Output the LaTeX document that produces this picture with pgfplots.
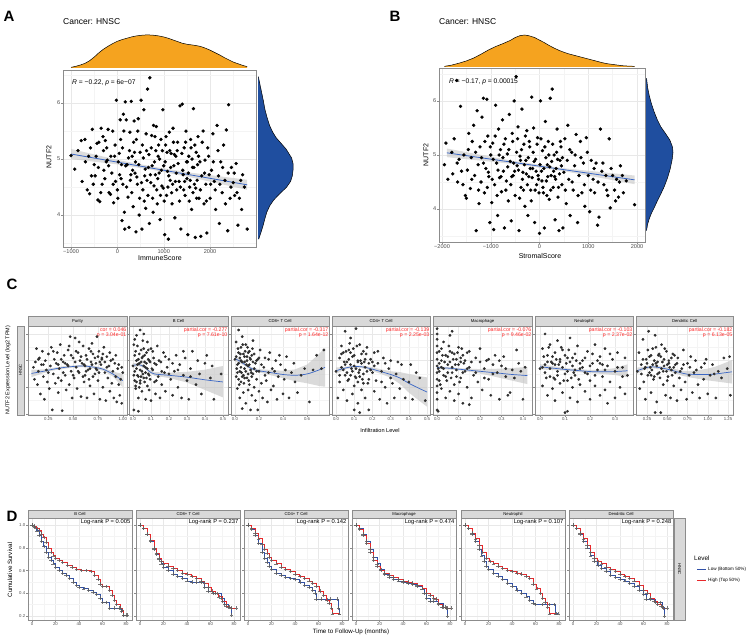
\documentclass[border=0pt]{standalone}
\usepackage{fontspec}
\setmainfont{Liberation Sans}
\usepackage{pgfplots}
\pgfplotsset{compat=1.18}

\definecolor{orangeD}{HTML}{F5A31F}
\definecolor{blueD}{HTML}{1F4E9F}
\definecolor{fitline}{HTML}{3A66C4}
\definecolor{kmred}{HTML}{E8282B}
\definecolor{kmblue}{HTML}{3050A8}
\definecolor{stripgray}{HTML}{D9D9D9}
\definecolor{framegray}{HTML}{8C8C8C}
\definecolor{tickgray}{HTML}{4D4D4D}
\definecolor{dotgray}{HTML}{2E2E2E}
\definecolor{cortext}{HTML}{FF2A2A}

\newcommand{\fs}[1]{\fontsize{#1}{#1}\selectfont}
% strip header: x1 x2 ytop ybottom text (pixel coords, y down)
\newcommand{\strip}[5]{%
  \draw[fill=stripgray, draw=framegray, line width=0.4pt] (#1,#3) rectangle (#2,#4);
  \node[font=\fs{4.2}, inner sep=0] at ({(#1+#2)/2},{(#3+#4)/2}) {#5};}

\tikzset{
  cortxt/.style={anchor=north east, align=right, font=\fs{5.2}, text=cortext, inner sep=0.5pt},
  lrtxt/.style={anchor=north east, font=\fs{5.8}, inner sep=0.5pt},
}

\pgfplotsset{
  gg/.style={scale only axis, anchor=south west,
    axis line style={framegray, line width=0.5pt},
    grid=both,
    major grid style={gray!18, line width=0.45pt},
    minor grid style={gray!9, line width=0.3pt},
    tick style={framegray, line width=0.35pt},
    major tick length=1.6pt, minor tick length=0pt,
    tick align=outside, xtick pos=bottom, ytick pos=left,
    ticklabel style={text=tickgray},
    /pgf/number format/assume math mode=true,
    xticklabel style={inner sep=1pt}, yticklabel style={inner sep=1pt}},
  dens/.style={scale only axis, anchor=south west, axis lines=none, clip=false},
  cpan/.style={gg, height=89pt, ymin=5.96, ymax=9.3, ytick={6,7,8,9}, minor ytick={6.5,7.5,8.5},
    yticklabel=\empty, ticklabel style={font=\fs{4.3}}},
  dpan/.style={gg, width=104pt, height=102pt, xmin=-3.4, xmax=85.1, ymin=0.165, ymax=1.062,
    xtick={0,20,40,60,80}, minor xtick={10,30,50,70},
    ytick={0.2,0.4,0.6,0.8,1.0}, minor ytick={0.3,0.5,0.7,0.9},
    yticklabel=\empty, ticklabel style={font=\fs{4.3}}},
  cdot/.style={only marks, mark=*, mark size=1.2pt, dotgray},
  adot/.style={only marks, mark=*, mark size=1.5pt, black},
  cfit/.style={fitline, line width=0.7pt},
  cband/.style={fill=gray!45, draw=none, fill opacity=0.65},
  kmb/.style={const plot, kmblue, line width=0.5pt, mark=+, mark size=1.7pt,
    mark options={gray!75!black, line width=0.35pt, opacity=0.85}},
  kmr/.style={kmb, kmred},
}

\begin{document}
\begin{tikzpicture}[x=1pt, y=1pt]
\useasboundingbox (0pt,0pt) rectangle (753pt,639pt);

%================ PANEL A ================
\begin{axis}[dens, at={(63pt,571pt)}, width=193pt, height=33pt, xmin=-1173, xmax=2990, ymin=0, ymax=1]
\addplot[fill=orangeD, draw=none] coordinates {
(-1000,0.02) (-900,0.05) (-800,0.09) (-700,0.14) (-600,0.22) (-500,0.33) (-400,0.46) (-300,0.57)
(-200,0.66) (-100,0.74) (0,0.81) (100,0.86) (200,0.90) (300,0.94) (400,0.97) (500,0.99) (600,1.0)
(700,1.0) (800,0.99) (900,0.97) (1000,0.94) (1100,0.90) (1200,0.85) (1300,0.80) (1400,0.75)
(1500,0.72) (1600,0.70) (1700,0.68) (1800,0.65) (1900,0.60) (2000,0.54) (2100,0.47) (2200,0.40)
(2300,0.32) (2400,0.25) (2500,0.18) (2600,0.13) (2700,0.08) (2800,0.04)} \closedcycle;
\addplot[black, line width=0.5pt] coordinates {
(-1000,0.02) (-900,0.05) (-800,0.09) (-700,0.14) (-600,0.22) (-500,0.33) (-400,0.46) (-300,0.57)
(-200,0.66) (-100,0.74) (0,0.81) (100,0.86) (200,0.90) (300,0.94) (400,0.97) (500,0.99) (600,1.0)
(700,1.0) (800,0.99) (900,0.97) (1000,0.94) (1100,0.90) (1200,0.85) (1300,0.80) (1400,0.75)
(1500,0.72) (1600,0.70) (1700,0.68) (1800,0.65) (1900,0.60) (2000,0.54) (2100,0.47) (2200,0.40)
(2300,0.32) (2400,0.25) (2500,0.18) (2600,0.13) (2700,0.08) (2800,0.04)};
\end{axis}

\begin{axis}[dens, at={(258pt,392pt)}, width=35pt, height=177pt, xmin=0, xmax=1, ymin=3.43, ymax=6.59]
\addplot[fill=blueD, draw=none] coordinates {
(0,3.57) (0.02,3.57) (0.08,3.68) (0.14,3.80) (0.19,3.92) (0.25,4.05) (0.34,4.17) (0.45,4.27) (0.62,4.38)
(0.82,4.50) (0.93,4.60) (0.98,4.70) (1.0,4.80) (1.0,4.92) (0.96,5.02) (0.88,5.10) (0.80,5.18)
(0.66,5.28) (0.52,5.38) (0.42,5.48) (0.33,5.60) (0.26,5.74) (0.20,5.88) (0.15,6.05) (0.10,6.20)
(0.05,6.35) (0.01,6.47) (0,6.47)};
\addplot[black, line width=0.5pt] coordinates {
(0.02,3.57) (0.08,3.68) (0.14,3.80) (0.19,3.92) (0.25,4.05) (0.34,4.17) (0.45,4.27) (0.62,4.38)
(0.82,4.50) (0.93,4.60) (0.98,4.70) (1.0,4.80) (1.0,4.92) (0.96,5.02) (0.88,5.10) (0.80,5.18)
(0.66,5.28) (0.52,5.38) (0.42,5.48) (0.33,5.60) (0.26,5.74) (0.20,5.88) (0.15,6.05) (0.10,6.20)
(0.05,6.35) (0.01,6.47)};
\end{axis}

\begin{axis}[gg, at={(63pt,392pt)}, width=193pt, height=177pt,
  xmin=-1173, xmax=2990, ymin=3.43, ymax=6.59,
  xtick={-1000,0,1000,2000}, xticklabels={−1000,0,1000,2000},
  minor xtick={-500,500,1500,2500},
  ytick={4,5,6}, minor ytick={3.5,4.5,5.5,6.5},
  ticklabel style={font=\fs{5.6}}]
\addplot[adot] coordinates {
(-1000,5.06) (-920,4.82) (-780,5.33) (-700,5.35) (-650,4.45) (-620,5.05) (-600,4.38) (-560,4.70)
(-540,5.53) (-500,4.90) (-480,4.70) (-440,5.28) (-420,4.27) (-400,5.30) (-380,4.24) (-350,5.55)
(-330,4.55) (-300,5.15) (-290,4.80) (-260,5.33) (-240,4.95) (-220,4.98) (-200,5.53) (-180,4.40)
(-150,4.37) (-120,4.75) (-100,5.50) (-80,4.22) (-60,5.05) (-40,4.60) (-20,6.05) (0,4.45) (20,4.95)
(40,5.10) (60,5.70) (80,4.65) (100,3.90) (110,5.20) (130,5.80) (150,4.05) (160,3.75) (170,6.02)
(190,5.70) (210,4.90) (230,4.32) (250,3.78) (270,5.48) (290,4.72) (300,6.03) (320,5.05) (340,4.15)
(360,5.68) (380,4.75) (400,3.70) (410,5.35) (430,4.55) (450,5.72) (470,4.00) (490,5.12) (510,6.05)
(530,3.75) (550,4.45) (570,5.88) (590,4.70) (610,4.12) (630,5.15) (650,6.25) (670,4.85) (690,3.85)
(700,6.45) (720,4.58) (740,5.42) (760,4.30) (780,5.60) (800,4.95) (820,4.72) (840,5.58) (860,4.20)
(880,5.05) (900,4.75) (920,3.92) (940,5.35) (960,4.52) (980,5.88) (1000,4.88) (1020,3.65)
(1040,5.25) (1060,4.35) (1080,4.78) (1100,3.57) (1120,5.48) (1140,4.62) (1160,5.10) (1180,4.20)
(1200,5.55) (1220,4.88) (1240,3.95) (1260,5.05) (1280,4.45) (1300,5.30) (1330,4.60) (1350,5.95)
(1370,3.75) (1400,5.98) (1420,4.72) (1440,5.20) (1460,4.35) (1480,5.50) (1500,4.65) (1520,3.65)
(1540,5.05) (1560,4.50) (1580,5.35) (1600,4.10) (1620,4.85) (1640,5.90) (1660,4.55) (1680,3.60)
(1700,5.12) (1720,4.62) (1740,5.40) (1760,4.30) (1780,4.95) (1800,3.62) (1820,4.70) (1850,5.50)
(1870,4.20) (1890,4.98) (1910,4.55) (1930,3.68) (1950,5.20) (1980,4.72) (2000,4.30) (2030,4.80)
(2060,5.45) (2090,4.60) (2120,4.10) (2150,5.60) (2180,4.70) (2200,3.85) (2230,4.95) (2260,4.40)
(2290,5.25) (2320,4.62) (2350,5.52) (2380,3.72) (2400,5.97) (2430,4.30) (2460,4.85) (2500,4.58)
(2530,4.35) (2560,4.92) (2600,3.82) (2630,4.30) (2660,4.62) (2700,4.72) (2740,4.50) (2800,3.75)
(50,4.72) (120,4.55) (180,4.88) (240,5.02) (280,4.62) (330,4.80) (370,5.12) (420,4.68) (460,4.90)
(520,4.58) (560,5.02) (600,4.82) (640,4.62) (680,5.08) (710,4.72) (750,4.88) (790,4.52) (830,5.15)
(870,4.65) (910,5.00) (950,4.80) (990,4.48) (1030,4.95) (1070,5.12) (1110,4.70) (1150,4.85)
(1190,4.55) (1230,5.08) (1270,4.75) (1310,4.92) (1360,4.50) (1410,4.80) (1450,4.60) (1490,4.95)
(1530,4.75) (1570,4.62) (1610,5.00) (1650,4.85) (1690,4.48) (1730,4.90)};
\addplot[adot] coordinates {
(-850,5.15) (-760,4.60) (-690,4.95) (-580,5.20) (-520,4.55) (-460,5.05) (-410,4.85) (-360,4.40)
(-310,5.40) (-270,4.65) (-230,5.20) (-190,4.88) (-140,5.05) (-90,4.55) (-50,5.25) (10,4.30) (70,5.35)
(90,4.90) (140,5.50) (200,4.50) (260,5.15) (310,4.40) (350,5.30) (390,4.95) (440,5.50) (480,4.30)
(540,5.25) (580,4.25) (620,5.45) (660,4.35) (730,5.20) (770,4.05) (810,5.40) (850,4.45) (890,5.25)
(930,4.35) (970,5.15) (1010,4.25) (1050,5.40) (1090,4.50) (1130,5.15) (1170,4.40) (1210,5.30)
(1250,4.60) (1290,5.15) (1340,4.25) (1390,5.10) (1430,4.45) (1470,5.30) (1510,4.95) (1550,4.25)
(1590,5.20) (1630,4.40) (1670,5.25) (1710,4.30) (1750,5.05) (1790,4.45) (1830,5.30) (1880,4.75)
(1920,4.25) (1970,5.05) (2010,4.55) (2070,4.95) (2110,4.45) (2170,5.15) (2210,4.55) (2270,4.85)
(2330,4.20) (2390,4.75) (2450,4.50) (2520,4.75) (2580,4.40) (2680,4.10)};
\addplot[fill=gray!45, draw=none, fill opacity=0.6] coordinates {
(-1000,5.18) (0,4.985) (800,4.86) (1600,4.755) (2800,4.63)
(2800,4.45) (1600,4.67) (800,4.80) (0,4.905) (-1000,5.00)};
\addplot[fitline, line width=0.8pt] coordinates {(-1000,5.09) (2800,4.54)};
\end{axis}

%================ PANEL B ================
\begin{axis}[dens, at={(439pt,572pt)}, width=206pt, height=32pt, xmin=-2062, xmax=2164, ymin=0, ymax=1]
\addplot[fill=orangeD, draw=none] coordinates {
(-1950,0.02) (-1800,0.06) (-1650,0.12) (-1500,0.19) (-1350,0.28) (-1200,0.40) (-1050,0.53)
(-900,0.64) (-750,0.73) (-600,0.83) (-500,0.92) (-400,0.98) (-300,1.0) (-200,0.97) (-100,0.92)
(0,0.84) (100,0.76) (200,0.67) (300,0.59) (400,0.52) (500,0.46) (600,0.41) (700,0.37) (800,0.33)
(900,0.29) (1000,0.25) (1100,0.21) (1200,0.17) (1300,0.13) (1400,0.10) (1500,0.08) (1600,0.06)
(1700,0.04) (1800,0.03) (1950,0.02)} \closedcycle;
\addplot[black, line width=0.5pt] coordinates {
(-1950,0.02) (-1800,0.06) (-1650,0.12) (-1500,0.19) (-1350,0.28) (-1200,0.40) (-1050,0.53)
(-900,0.64) (-750,0.73) (-600,0.83) (-500,0.92) (-400,0.98) (-300,1.0) (-200,0.97) (-100,0.92)
(0,0.84) (100,0.76) (200,0.67) (300,0.59) (400,0.52) (500,0.46) (600,0.41) (700,0.37) (800,0.33)
(900,0.29) (1000,0.25) (1100,0.21) (1200,0.17) (1300,0.13) (1400,0.10) (1500,0.08) (1600,0.06)
(1700,0.04) (1800,0.03) (1950,0.02)};
\end{axis}

\begin{axis}[dens, at={(646pt,397pt)}, width=27pt, height=174pt, xmin=0, xmax=1, ymin=3.39, ymax=6.61]
\addplot[fill=blueD, draw=none] coordinates {
(0,3.60) (0.02,3.60) (0.06,3.72) (0.12,3.82) (0.20,3.92) (0.30,4.02) (0.42,4.15) (0.55,4.28) (0.68,4.42)
(0.80,4.58) (0.90,4.75) (0.97,4.92) (1.0,5.05) (0.98,5.15) (0.88,5.28) (0.72,5.40) (0.55,5.52)
(0.42,5.65) (0.30,5.80) (0.20,5.95) (0.12,6.10) (0.06,6.25) (0.02,6.42) (0,6.42)};
\addplot[black, line width=0.5pt] coordinates {
(0.02,3.60) (0.06,3.72) (0.12,3.82) (0.20,3.92) (0.30,4.02) (0.42,4.15) (0.55,4.28) (0.68,4.42)
(0.80,4.58) (0.90,4.75) (0.97,4.92) (1.0,5.05) (0.98,5.15) (0.88,5.28) (0.72,5.40) (0.55,5.52)
(0.42,5.65) (0.30,5.80) (0.20,5.95) (0.12,6.10) (0.06,6.25) (0.02,6.42)};
\end{axis}

\begin{axis}[gg, at={(439pt,397pt)}, width=206pt, height=174pt,
  xmin=-2062, xmax=2164, ymin=3.39, ymax=6.61,
  xtick={-2000,-1000,0,1000,2000}, xticklabels={−2000,−1000,0,1000,2000},
  minor xtick={-1500,-500,500,1500},
  ytick={4,5,6}, minor ytick={3.5,4.5,5.5,6.5},
  ticklabel style={font=\fs{5.6}}]
\addplot[adot] coordinates {
(-1950,4.82) (-1920,5.22) (-1800,5.05) (-1780,4.65) (-1700,6.38) (-1680,4.50) (-1650,4.92)
(-1620,5.90) (-1600,4.70) (-1550,5.00) (-1520,4.25) (-1500,4.20) (-1480,4.72) (-1450,5.40)
(-1420,4.38) (-1400,4.95) (-1380,5.25) (-1350,5.55) (-1330,4.62) (-1300,3.60) (-1280,5.82)
(-1260,4.82) (-1240,4.10) (-1220,5.15) (-1200,4.50) (-1180,5.70) (-1150,6.05) (-1130,4.30)
(-1100,4.75) (-1080,6.03) (-1060,5.35) (-1040,4.60) (-1020,3.75) (-1000,5.00) (-980,4.12)
(-960,5.22) (-940,3.62) (-920,4.45) (-900,5.92) (-880,4.85) (-860,3.88) (-840,5.48) (-820,4.58)
(-800,5.10) (-780,4.32) (-760,5.65) (-740,4.70) (-720,3.65) (-700,5.30) (-680,4.52) (-660,5.02)
(-640,4.15) (-620,5.75) (-600,4.88) (-580,3.78) (-560,5.40) (-540,4.62) (-520,6.00) (-500,4.25)
(-480,6.45) (-460,4.80) (-440,5.52) (-420,3.60) (-400,4.98) (-380,4.40) (-360,5.85) (-340,4.68)
(-320,5.20) (-300,4.05) (-280,4.90) (-260,5.45) (-240,3.88) (-220,4.60) (-200,5.15) (-180,4.35)
(-160,6.07) (-140,4.75) (-120,5.50) (-100,3.75) (-80,4.92) (-60,4.45) (-40,5.32) (-20,4.55)
(0,3.55) (20,6.00) (40,4.70) (60,5.08) (80,4.30) (100,3.65) (120,5.62) (140,4.52) (160,4.82)
(180,5.25) (200,4.18) (220,6.05) (240,4.62) (260,6.22) (280,4.40) (300,5.00) (320,3.80) (340,4.75)
(360,5.48) (380,4.22) (400,3.60) (420,4.90) (440,5.15) (460,4.45) (480,3.65) (500,4.68) (520,5.30)
(550,4.10) (580,5.55) (600,4.55) (630,3.88) (660,5.05) (690,4.35) (720,4.80) (750,5.38) (780,3.75)
(810,4.62) (840,5.25) (870,4.30) (900,4.85) (930,4.05) (960,5.32) (1000,4.62) (1030,3.95)
(1060,4.90) (1100,4.55) (1130,4.30) (1160,4.85) (1190,3.70) (1220,3.85) (1250,5.48) (1280,4.70)
(1320,4.45) (1360,4.62) (1400,4.25) (1430,5.30) (1450,4.02) (1500,4.62) (1540,4.35) (1580,4.55)
(1620,4.22) (1660,4.80) (1720,4.30) (1780,4.52) (1950,4.08)
(-1150,4.85) (-1050,4.68) (-950,4.92) (-850,4.72) (-750,4.95) (-650,4.78) (-570,4.60) (-530,4.85)
(-470,5.05) (-430,4.72) (-390,4.90) (-350,4.55) (-310,4.82) (-270,4.65) (-230,4.95) (-190,4.75)
(-150,4.58) (-110,4.88) (-70,4.70) (-30,4.62) (10,4.82) (50,4.52) (90,4.75) (130,4.95) (170,4.60)
(210,4.78) (250,4.88) (290,4.70) (330,4.55) (370,4.92) (410,4.65) (450,4.80)};
\addplot[adot] coordinates {
(-1880,4.55) (-1750,5.30) (-1690,4.85) (-1570,4.45) (-1460,5.10) (-1390,4.55) (-1310,5.05)
(-1250,4.35) (-1190,4.95) (-1120,5.25) (-1070,4.40) (-1010,5.15) (-970,4.55) (-910,5.35) (-870,4.25)
(-830,5.00) (-790,4.60) (-730,5.20) (-690,4.35) (-630,5.10) (-590,4.45) (-550,5.25) (-510,4.70)
(-450,5.30) (-410,4.20) (-370,5.10) (-330,4.35) (-290,5.35) (-250,4.45) (-210,5.25) (-170,4.15)
(-130,5.05) (-90,4.35) (-50,5.20) (-10,4.30) (30,5.30) (70,4.40) (110,5.15) (150,4.25) (190,5.00)
(230,4.35) (270,5.20) (310,4.60) (350,5.05) (390,4.40) (430,5.25) (470,4.95) (530,4.35) (570,4.90)
(620,5.10) (670,4.50) (730,5.00) (790,4.25) (850,4.95) (920,4.45) (980,5.05) (1050,4.35) (1120,4.75)
(1200,4.50) (1300,4.85) (1380,4.35) (1470,4.75) (1560,4.15) (1640,4.50) (1700,4.62)};
\addplot[fill=gray!45, draw=none, fill opacity=0.6] coordinates {
(-1900,5.12) (-500,4.885) (500,4.755) (1950,4.62)
(1950,4.46) (500,4.70) (-500,4.83) (-1900,4.96)};
\addplot[fitline, line width=0.8pt] coordinates {(-1900,5.04) (1950,4.54)};
\end{axis}

%================ PANEL C ================
% Purity
\begin{axis}[cpan, at={(28pt,224pt)}, width=99pt, xmin=0.045, xmax=1.043,
  xtick={0.25,0.5,0.75,1}, xticklabels={0.25,0.50,0.75,1.00}, minor xtick={0.375,0.625,0.875},
  yticklabels={6,7,8,9}]
\addplot[cdot] coordinates {
(0.10,7.75) (0.11,7.30) (0.12,7.95) (0.13,8.45) (0.14,7.10) (0.15,7.60) (0.16,8.10) (0.17,6.75)
(0.18,7.85) (0.19,8.35) (0.20,7.40) (0.21,6.55) (0.22,8.00) (0.23,7.65) (0.24,7.20) (0.25,8.25)
(0.26,6.95) (0.27,7.80) (0.28,8.50) (0.29,6.15) (0.30,7.50) (0.31,8.05) (0.32,7.15) (0.33,7.90)
(0.34,8.30) (0.35,6.80) (0.36,7.70) (0.37,8.60) (0.38,7.25) (0.39,6.12) (0.40,7.95) (0.41,8.20)
(0.42,7.45) (0.43,6.90) (0.44,7.85) (0.45,8.40) (0.46,7.10) (0.47,8.90) (0.48,7.60) (0.49,6.60)
(0.50,8.10) (0.51,7.35) (0.52,8.85) (0.53,7.75) (0.54,6.95) (0.55,8.30) (0.56,7.55) (0.57,8.00)
(0.58,6.65) (0.59,7.90) (0.60,8.55) (0.61,7.20) (0.62,7.80) (0.63,8.20) (0.64,6.60) (0.65,7.65)
(0.66,8.45) (0.67,7.05) (0.68,7.95) (0.69,8.65) (0.70,7.40) (0.71,6.75) (0.72,8.10) (0.73,7.70)
(0.74,8.90) (0.75,7.25) (0.76,8.35) (0.77,6.55) (0.78,7.85) (0.79,8.05) (0.80,7.00) (0.81,8.50)
(0.82,7.55) (0.83,6.50) (0.84,8.15) (0.85,7.35) (0.86,7.80) (0.87,6.85) (0.88,8.00) (0.89,7.15)
(0.90,7.60) (0.91,6.60) (0.92,7.90) (0.93,7.40) (0.94,6.45) (0.95,7.70) (0.96,7.10) (0.97,6.70)
(0.98,7.30) (0.99,6.40) (1.00,7.55) (0.52,7.95) (0.55,7.60) (0.58,8.15) (0.61,7.85) (0.64,8.05)
(0.67,7.70) (0.70,8.25) (0.73,7.90) (0.76,7.55) (0.79,8.10) (0.45,7.80) (0.48,8.20) (0.35,7.85)
(0.40,7.55) (0.62,7.45) (0.68,8.35) (0.74,7.65) (0.82,7.95)
(0.15,8.05) (0.2,7.85) (0.25,7.55) (0.3,8.35) (0.35,7.35) (0.38,8.05) (0.42,7.90) (0.46,8.55)
(0.5,7.45) (0.53,8.35) (0.56,8.70) (0.6,7.40) (0.63,7.60) (0.66,7.30) (0.69,7.85) (0.72,7.50)
(0.75,8.15) (0.77,7.95) (0.8,8.25) (0.84,7.75) (0.87,8.30) (0.9,8.05) (0.93,8.20) (0.96,7.85) (0.99,7.75)};
\addplot[cband] coordinates {
(0.08,7.66) (0.2,7.67) (0.3,7.73) (0.4,7.79) (0.5,7.82) (0.6,7.84) (0.7,7.81) (0.8,7.74) (0.9,7.59) (1.0,7.50)
(1.0,7.00) (0.9,7.41) (0.8,7.62) (0.7,7.71) (0.6,7.76) (0.5,7.74) (0.4,7.69) (0.3,7.63) (0.2,7.53) (0.08,7.38)};
\addplot[cfit, smooth] coordinates {
(0.08,7.52) (0.2,7.60) (0.3,7.68) (0.4,7.74) (0.5,7.78) (0.6,7.80) (0.7,7.76) (0.8,7.68) (0.9,7.50) (1.0,7.25)};
\node[cortxt] at (rel axis cs:1,0.985) {cor = 0.046\\p = 3.04e-01};
\end{axis}

% B Cell
\begin{axis}[cpan, at={(129pt,224pt)}, width=99pt, xmin=-0.022, xmax=0.528,
  xtick={0,0.1,0.2,0.3,0.4,0.5}, xticklabels={0.0,0.1,0.2,0.3,0.4,0.5},
  minor xtick={0.05,0.15,0.25,0.35,0.45}]
\addplot[cdot] coordinates {
(0.00,7.80) (0.005,8.60) (0.01,7.25) (0.01,8.20) (0.015,6.95) (0.02,7.70) (0.02,8.95) (0.025,7.45)
(0.03,8.05) (0.03,6.60) (0.035,7.90) (0.04,9.15) (0.04,7.15) (0.045,8.40) (0.05,7.60) (0.05,6.85)
(0.055,8.15) (0.06,7.35) (0.06,9.00) (0.065,7.95) (0.07,6.55) (0.07,7.75) (0.075,8.30) (0.08,7.05)
(0.08,8.70) (0.085,7.50) (0.09,6.90) (0.09,8.00) (0.095,7.30) (0.10,8.45) (0.10,6.50) (0.11,7.65)
(0.115,8.10) (0.12,7.20) (0.125,6.75) (0.13,7.85) (0.135,8.55) (0.14,7.40) (0.15,6.60) (0.155,7.95)
(0.16,7.10) (0.17,8.30) (0.175,7.55) (0.18,6.85) (0.19,7.75) (0.20,8.05) (0.21,7.30) (0.22,6.70)
(0.23,7.60) (0.24,8.20) (0.25,7.00) (0.26,7.85) (0.27,6.60) (0.28,7.45) (0.29,8.10) (0.30,7.25)
(0.31,6.55) (0.32,7.70) (0.33,8.35) (0.35,7.10) (0.37,7.50) (0.38,6.75) (0.40,7.90) (0.41,8.20)
(0.43,7.35) (0.45,6.55) (0.49,7.50) (0.005,6.15) (0.03,6.10)
(0.01,7.60) (0.02,8.00) (0.025,7.85) (0.03,7.40) (0.035,8.25) (0.04,7.65) (0.045,7.95) (0.05,8.10)
(0.055,7.50) (0.06,7.80) (0.065,8.20) (0.07,7.55) (0.075,7.90) (0.08,7.70) (0.085,8.05) (0.09,7.45)
(0.015,8.35) (0.04,7.25) (0.06,8.45) (0.02,7.20)
(0.005,7.45) (0.01,8.80) (0.015,7.05) (0.025,8.55) (0.035,7.00) (0.045,7.40) (0.055,8.75) (0.065,7.20)
(0.075,7.35) (0.085,8.40) (0.095,7.95) (0.105,7.70) (0.11,8.35) (0.12,7.90) (0.13,7.25) (0.145,8.00)
(0.16,7.60) (0.18,8.15) (0.2,7.50) (0.22,7.90) (0.25,7.65) (0.28,8.35) (0.32,7.40) (0.36,8.00) (0.44,7.80)};
\addplot[cband] coordinates {
(0,7.91) (0.03,7.90) (0.06,7.83) (0.09,7.66) (0.12,7.57) (0.2,7.55) (0.3,7.58) (0.4,7.66) (0.5,7.80)
(0.5,6.62) (0.4,6.90) (0.3,7.18) (0.2,7.35) (0.12,7.43) (0.09,7.54) (0.06,7.73) (0.03,7.80) (0,7.73)};
\addplot[cfit, smooth] coordinates {
(0,7.82) (0.03,7.85) (0.06,7.78) (0.09,7.60) (0.12,7.50) (0.2,7.45) (0.3,7.38) (0.4,7.28) (0.5,7.20)};
\node[cortxt] at (rel axis cs:1,0.985) {partial.cor = -0.277\\p = 7.61e-10};
\end{axis}

% CD8+ T Cell
\begin{axis}[cpan, at={(231pt,224pt)}, width=98pt, xmin=-0.033, xmax=0.783,
  xtick={0,0.2,0.4,0.6}, xticklabels={0.0,0.2,0.4,0.6}, minor xtick={0.1,0.3,0.5,0.7}]
\addplot[cdot] coordinates {
(0.00,8.05) (0.01,7.40) (0.01,8.70) (0.02,7.85) (0.02,6.95) (0.03,9.15) (0.03,8.30) (0.04,7.60)
(0.04,6.60) (0.05,8.50) (0.05,7.20) (0.06,7.95) (0.06,8.90) (0.07,7.45) (0.07,6.80) (0.08,8.15)
(0.08,7.70) (0.09,6.40) (0.09,8.60) (0.10,7.35) (0.10,8.00) (0.11,6.90) (0.11,7.80) (0.12,8.35)
(0.12,7.10) (0.13,6.15) (0.13,7.65) (0.14,8.20) (0.14,6.70) (0.15,7.50) (0.15,8.75) (0.16,7.00)
(0.17,7.90) (0.17,6.50) (0.18,7.30) (0.19,8.05) (0.20,6.85) (0.20,7.60) (0.21,8.40) (0.22,7.15)
(0.23,6.60) (0.24,7.75) (0.25,8.10) (0.26,7.25) (0.27,6.45) (0.28,7.55) (0.29,8.30) (0.30,6.90)
(0.31,7.70) (0.32,7.05) (0.34,8.00) (0.35,6.55) (0.36,7.40) (0.38,7.85) (0.40,6.75) (0.41,7.30)
(0.43,8.15) (0.45,6.60) (0.47,7.55) (0.49,7.90) (0.52,6.80) (0.55,7.45) (0.58,7.70) (0.62,6.45)
(0.65,7.65) (0.68,8.20) (0.72,7.70) (0.74,8.40) (0.06,6.20) (0.19,6.15)
(0.02,7.55) (0.03,7.90) (0.04,8.10) (0.05,7.75) (0.06,7.40) (0.07,8.25) (0.08,7.95) (0.09,7.60)
(0.10,8.15) (0.11,7.50) (0.12,7.85) (0.13,8.05) (0.14,7.40) (0.15,7.95) (0.05,8.00) (0.08,7.35)
(0.11,8.30) (0.03,7.30) (0.16,7.70) (0.18,8.00)
(0.01,8.15) (0.015,7.70) (0.025,8.45) (0.035,7.10) (0.045,8.25) (0.055,7.55) (0.065,8.60) (0.075,7.15)
(0.085,8.35) (0.095,7.85) (0.105,8.50) (0.115,7.25) (0.125,8.10) (0.135,7.55) (0.145,8.45) (0.16,8.25)
(0.18,7.60) (0.2,8.10) (0.22,7.85) (0.25,7.45) (0.28,8.05) (0.33,7.60) (0.37,8.20) (0.42,7.65) (0.5,7.20)};
\addplot[cband] coordinates {
(0,8.18) (0.05,8.01) (0.1,7.85) (0.15,7.73) (0.2,7.68) (0.3,7.65) (0.4,7.62) (0.5,7.67) (0.6,7.85) (0.7,8.25) (0.75,8.48)
(0.75,7.02) (0.7,7.05) (0.6,7.15) (0.5,7.23) (0.4,7.34) (0.3,7.45) (0.2,7.56) (0.15,7.63) (0.1,7.75) (0.05,7.89) (0,7.98)};
\addplot[cfit, smooth] coordinates {
(0,8.08) (0.05,7.95) (0.1,7.80) (0.15,7.68) (0.2,7.62) (0.3,7.55) (0.4,7.48) (0.5,7.45) (0.6,7.50) (0.7,7.65) (0.75,7.75)};
\node[cortxt] at (rel axis cs:1,0.985) {partial.cor = -0.317\\p = 1.64e-12};
\end{axis}

% CD4+ T Cell
\begin{axis}[cpan, at={(332pt,224pt)}, width=98pt, xmin=-0.022, xmax=0.516,
  xtick={0,0.1,0.2,0.3,0.4,0.5}, xticklabels={0.0,0.1,0.2,0.3,0.4,0.5},
  minor xtick={0.05,0.15,0.25,0.35,0.45}]
\addplot[cdot] coordinates {
(0.00,7.60) (0.01,6.60) (0.02,8.10) (0.02,7.20) (0.03,8.55) (0.03,7.75) (0.04,6.90) (0.04,8.30)
(0.05,7.45) (0.05,9.10) (0.06,7.95) (0.06,6.50) (0.07,8.40) (0.07,7.30) (0.08,7.85) (0.08,8.85)
(0.09,6.75) (0.09,7.60) (0.10,8.20) (0.10,7.05) (0.11,9.20) (0.11,7.70) (0.12,6.40) (0.12,8.00)
(0.13,7.40) (0.13,8.60) (0.14,6.90) (0.14,7.90) (0.15,8.35) (0.15,7.15) (0.16,6.60) (0.16,7.75)
(0.17,8.50) (0.18,7.30) (0.18,6.15) (0.19,8.05) (0.20,7.55) (0.21,6.85) (0.21,8.30) (0.22,7.25)
(0.23,7.90) (0.24,6.55) (0.25,7.60) (0.26,8.10) (0.27,7.00) (0.28,6.40) (0.29,7.70) (0.30,8.00)
(0.31,7.15) (0.32,6.60) (0.33,7.50) (0.35,6.95) (0.36,7.85) (0.38,6.60) (0.40,7.20) (0.42,6.55)
(0.44,7.55) (0.46,7.35) (0.49,6.50) (0.10,6.15) (0.13,6.05)
(0.05,7.85) (0.06,7.55) (0.07,8.05) (0.08,7.45) (0.09,8.15) (0.10,7.80) (0.11,7.35) (0.12,7.95)
(0.13,7.65) (0.14,8.25) (0.15,7.50) (0.16,8.05) (0.17,7.60) (0.18,7.90) (0.04,7.65) (0.08,8.30)
(0.12,7.20) (0.20,7.95)
(0.02,7.45) (0.03,8.25) (0.045,7.95) (0.055,8.35) (0.065,7.25) (0.075,8.65) (0.085,7.70) (0.095,8.45)
(0.105,7.40) (0.115,8.55) (0.125,7.55) (0.135,8.00) (0.145,7.30) (0.155,7.95) (0.165,8.25) (0.175,7.15)
(0.19,7.65) (0.21,7.80) (0.23,8.35) (0.25,7.20) (0.27,7.90) (0.3,7.35) (0.34,7.95) (0.37,7.30) (0.41,7.85)};
\addplot[cband] coordinates {
(0,7.74) (0.05,7.77) (0.1,7.82) (0.15,7.81) (0.2,7.75) (0.25,7.67) (0.3,7.60) (0.35,7.57) (0.4,7.50) (0.45,7.43) (0.5,7.37)
(0.5,6.27) (0.45,6.53) (0.4,6.80) (0.35,7.13) (0.3,7.36) (0.25,7.49) (0.2,7.61) (0.15,7.71) (0.1,7.74) (0.05,7.67) (0,7.50)};
\addplot[cfit, smooth] coordinates {
(0,7.62) (0.05,7.72) (0.1,7.78) (0.15,7.76) (0.2,7.68) (0.25,7.58) (0.3,7.48) (0.35,7.35) (0.4,7.15) (0.45,6.98) (0.5,6.82)};
\node[cortxt] at (rel axis cs:1,0.985) {partial.cor = -0.139\\p = 2.25e-03};
\end{axis}

% Macrophage
\begin{axis}[cpan, at={(433pt,224pt)}, width=99pt, xmin=-0.019, xmax=0.442,
  xtick={0,0.1,0.2,0.3,0.4}, xticklabels={0.0,0.1,0.2,0.3,0.4}, minor xtick={0.05,0.15,0.25,0.35}]
\addplot[cdot] coordinates {
(0.00,9.20) (0.00,9.00) (0.00,8.80) (0.00,8.55) (0.00,8.30) (0.00,8.05) (0.00,7.80) (0.00,7.55)
(0.00,7.30) (0.00,7.05) (0.00,6.80) (0.00,6.55) (0.00,6.15) (0.005,6.10) (0.01,7.90) (0.01,7.25)
(0.02,8.45) (0.02,6.95) (0.03,7.70) (0.03,8.70) (0.04,7.40) (0.04,6.60) (0.05,8.15) (0.05,7.85)
(0.06,6.85) (0.06,8.95) (0.07,7.55) (0.07,8.30) (0.08,7.10) (0.08,6.50) (0.09,8.05) (0.09,7.65)
(0.10,6.75) (0.10,8.50) (0.11,7.35) (0.11,7.95) (0.12,6.40) (0.12,8.20) (0.13,7.60) (0.14,7.00)
(0.15,8.35) (0.15,7.75) (0.16,6.60) (0.17,7.45) (0.18,8.10) (0.19,7.20) (0.20,8.45) (0.21,6.90)
(0.22,7.70) (0.23,8.00) (0.24,7.30) (0.25,6.70) (0.26,7.85) (0.27,8.20) (0.28,7.55) (0.29,6.55)
(0.30,7.80) (0.31,8.15) (0.32,7.40) (0.34,6.80) (0.35,7.65) (0.37,8.40) (0.38,7.90) (0.40,6.55)
(0.41,7.75) (0.07,9.10) (0.15,6.35) (0.33,6.70)
(0.01,7.60) (0.02,8.00) (0.03,7.45) (0.04,8.20) (0.05,7.55) (0.06,7.95) (0.07,7.75) (0.08,8.25)
(0.09,7.40) (0.10,7.85) (0.11,8.10) (0.12,7.55) (0.13,8.00) (0.02,7.75) (0.06,8.35) (0.14,7.70)
(0.005,7.70) (0.01,8.35) (0.015,7.10) (0.025,8.20) (0.035,7.95) (0.045,7.25) (0.055,8.55) (0.065,7.35)
(0.075,8.05) (0.085,7.85) (0.095,8.30) (0.105,7.20) (0.115,8.45) (0.125,7.90) (0.14,8.30) (0.16,7.95)
(0.18,7.55) (0.2,7.95) (0.22,7.35) (0.24,8.05) (0.26,7.50) (0.29,8.00) (0.32,7.70) (0.36,7.35) (0.39,7.60)};
\addplot[cband] coordinates {
(0,7.79) (0.1,7.72) (0.2,7.68) (0.3,7.70) (0.42,7.76)
(0.42,7.12) (0.3,7.34) (0.2,7.52) (0.1,7.64) (0,7.69)};
\addplot[cfit, smooth] coordinates {
(0,7.74) (0.05,7.72) (0.1,7.68) (0.15,7.64) (0.2,7.60) (0.25,7.56) (0.3,7.52) (0.35,7.48) (0.42,7.44)};
\node[cortxt] at (rel axis cs:1,0.985) {partial.cor = -0.076\\p = 9.46e-02};
\end{axis}

% Neutrophil
\begin{axis}[cpan, at={(535pt,224pt)}, width=98pt, xmin=-0.02, xmax=0.372,
  xtick={0,0.1,0.2,0.3}, xticklabels={0.0,0.1,0.2,0.3}, minor xtick={0.05,0.15,0.25,0.35}]
\addplot[cdot] coordinates {
(0.00,7.70) (0.01,8.45) (0.01,7.05) (0.02,9.00) (0.02,7.85) (0.03,6.70) (0.03,8.20) (0.04,7.40)
(0.04,8.60) (0.05,6.95) (0.05,7.90) (0.06,8.30) (0.06,6.50) (0.07,7.60) (0.07,8.75) (0.08,7.15)
(0.08,7.95) (0.09,6.80) (0.09,8.40) (0.10,7.50) (0.10,6.05) (0.11,8.10) (0.11,7.25) (0.12,8.85)
(0.12,6.60) (0.13,7.80) (0.13,7.00) (0.14,8.25) (0.14,7.45) (0.15,6.45) (0.15,8.55) (0.16,7.70)
(0.16,7.10) (0.17,8.00) (0.18,6.85) (0.18,7.55) (0.19,8.35) (0.20,7.25) (0.20,6.55) (0.21,7.90)
(0.22,8.60) (0.22,7.05) (0.23,7.65) (0.24,6.70) (0.24,8.15) (0.25,7.40) (0.26,8.45) (0.26,6.90)
(0.27,7.80) (0.28,7.20) (0.29,8.05) (0.30,6.60) (0.30,7.60) (0.31,8.30) (0.32,7.00) (0.33,7.75)
(0.34,8.10) (0.34,6.75) (0.35,7.45) (0.11,6.10) (0.27,6.40) (0.06,7.30)
(0.02,7.55) (0.03,7.95) (0.04,7.70) (0.05,8.15) (0.06,7.85) (0.07,7.45) (0.08,8.05) (0.09,7.75)
(0.10,8.20) (0.11,7.60) (0.12,7.95) (0.13,8.10) (0.14,7.65) (0.16,7.90) (0.18,8.10) (0.20,7.80)
(0.23,8.00) (0.25,7.85)
(0.01,7.75) (0.015,8.15) (0.025,7.35) (0.035,8.50) (0.045,7.95) (0.055,7.35) (0.065,8.05) (0.075,7.85)
(0.085,8.50) (0.095,7.25) (0.105,7.90) (0.115,8.40) (0.125,7.35) (0.135,7.55) (0.145,8.00) (0.155,7.30)
(0.17,7.75) (0.19,7.50) (0.21,8.25) (0.22,7.45) (0.24,7.90) (0.26,7.65) (0.28,8.25) (0.31,7.75) (0.33,7.40)};
\addplot[cband] coordinates {
(0,7.87) (0.1,7.72) (0.2,7.65) (0.25,7.66) (0.3,7.72) (0.35,7.86)
(0.35,7.38) (0.3,7.46) (0.25,7.50) (0.2,7.53) (0.1,7.62) (0,7.67)};
\addplot[cfit, smooth] coordinates {
(0,7.77) (0.05,7.72) (0.1,7.67) (0.15,7.63) (0.2,7.59) (0.25,7.58) (0.3,7.59) (0.35,7.62)};
\node[cortxt] at (rel axis cs:1,0.985) {partial.cor = -0.103\\p = 2.37e-02};
\end{axis}

% Dendritic Cell
\begin{axis}[cpan, at={(636pt,224pt)}, width=97pt, xmin=0.114, xmax=1.312,
  xtick={0.25,0.5,0.75,1,1.25}, xticklabels={0.25,0.50,0.75,1.00,1.25},
  minor xtick={0.375,0.625,0.875,1.125}]
\addplot[cdot] coordinates {
(0.13,7.60) (0.15,8.30) (0.16,6.95) (0.18,7.85) (0.20,8.80) (0.21,7.20) (0.23,6.55) (0.24,8.05)
(0.26,7.45) (0.27,9.10) (0.29,7.75) (0.30,6.80) (0.32,8.45) (0.33,7.30) (0.35,8.95) (0.36,7.90)
(0.37,6.45) (0.39,8.20) (0.40,7.55) (0.42,6.05) (0.43,8.60) (0.45,7.10) (0.46,7.80) (0.48,6.70)
(0.49,8.35) (0.51,7.40) (0.52,8.00) (0.54,6.60) (0.55,7.65) (0.57,8.25) (0.58,7.05) (0.60,7.85)
(0.62,6.50) (0.63,8.10) (0.65,7.35) (0.67,6.90) (0.68,7.70) (0.70,8.40) (0.72,7.20) (0.74,6.55)
(0.75,7.90) (0.77,7.45) (0.79,8.15) (0.81,6.80) (0.83,7.55) (0.85,8.00) (0.88,7.10) (0.90,6.60)
(0.92,7.75) (0.95,7.30) (0.98,8.05) (1.00,6.75) (1.03,7.45) (1.06,7.85) (1.10,6.60) (1.13,7.60)
(1.17,7.35) (1.20,8.10) (1.24,7.70) (1.27,8.15) (1.28,6.70) (0.35,6.05)
(0.25,7.90) (0.28,8.15) (0.31,7.65) (0.34,8.00) (0.37,7.80) (0.40,8.25) (0.43,7.70) (0.46,8.05)
(0.49,7.60) (0.52,7.90) (0.55,8.10) (0.58,7.75) (0.22,7.70) (0.30,7.45) (0.38,7.50) (0.44,7.95)
(0.50,7.85) (0.60,7.55)
(0.18,7.50) (0.2,8.05) (0.23,7.75) (0.26,8.40) (0.28,7.55) (0.3,8.20) (0.32,7.85) (0.34,7.40)
(0.36,8.50) (0.38,7.95) (0.41,7.35) (0.42,8.15) (0.45,7.60) (0.47,8.45) (0.5,7.25) (0.53,7.75)
(0.56,7.45) (0.59,8.20) (0.62,7.90) (0.66,7.60) (0.7,7.85) (0.78,7.75) (0.86,7.65) (0.96,7.90) (1.08,7.50)};
\addplot[cband] coordinates {
(0.13,7.74) (0.2,7.76) (0.3,7.82) (0.4,7.80) (0.5,7.75) (0.6,7.68) (0.7,7.62) (0.8,7.62) (0.9,7.65) (1.0,7.70) (1.1,7.78) (1.2,7.90) (1.3,8.02)
(1.3,7.14) (1.2,7.18) (1.1,7.22) (1.0,7.26) (0.9,7.31) (0.8,7.36) (0.7,7.42) (0.6,7.52) (0.5,7.61) (0.4,7.68) (0.3,7.72) (0.2,7.64) (0.13,7.50)};
\addplot[cfit, smooth] coordinates {
(0.13,7.62) (0.2,7.70) (0.3,7.77) (0.4,7.74) (0.5,7.68) (0.6,7.60) (0.7,7.52) (0.75,7.49) (0.9,7.48) (1.0,7.48) (1.1,7.50) (1.2,7.54) (1.3,7.58)};
\node[cortxt] at (rel axis cs:1,0.985) {partial.cor = -0.182\\p = 6.13e-05};
\end{axis}

%================ PANEL D ================
% B Cell
\begin{axis}[dpan, at={(28pt,19pt)}, yticklabels={0.2,0.4,0.6,0.8,1.0}]
\addplot[kmb] coordinates {
(0,1) (2,0.98) (4,0.95) (6,0.91) (8,0.86) (10,0.81) (12,0.76) (14,0.72) (16,0.69) (18,0.66) (20,0.63)
(23,0.60) (26,0.58) (29,0.56) (32,0.53) (35,0.50) (38,0.47) (40,0.45) (44,0.44) (48,0.43) (52,0.41)
(55,0.39) (58,0.36) (60,0.32) (63,0.32) (66,0.27) (70,0.27) (74,0.27) (76,0.24) (78,0.21) (80,0.21)};
\addplot[kmr] coordinates {
(0,1) (2,0.99) (4,0.97) (6,0.95) (8,0.92) (10,0.89) (12,0.85) (14,0.80) (16,0.76) (18,0.73) (20,0.71)
(23,0.69) (26,0.67) (30,0.65) (34,0.63) (38,0.61) (42,0.60) (46,0.60) (50,0.59) (53,0.56) (56,0.52)
(58,0.48) (60,0.46) (63,0.46) (66,0.43) (68,0.38) (70,0.34) (72,0.30) (75,0.27) (77,0.25) (78,0.21) (81,0.21)};
\node[lrtxt] at (rel axis cs:0.99,0.99) {Log-rank P = 0.005};
\end{axis}

% CD8+ T Cell
\begin{axis}[dpan, at={(136pt,19pt)}]
\addplot[kmb] coordinates {
(0,1) (3,0.97) (6,0.92) (9,0.86) (12,0.79) (14,0.74) (16,0.70) (18,0.66) (20,0.63) (24,0.60) (28,0.57)
(32,0.55) (36,0.53) (40,0.51) (44,0.50) (48,0.50) (52,0.50) (55,0.45) (58,0.42) (62,0.40) (66,0.40)
(69,0.36) (72,0.30) (75,0.28) (78,0.21)};
\addplot[kmr] coordinates {
(0,1) (3,0.97) (6,0.92) (9,0.87) (12,0.80) (14,0.75) (16,0.71) (18,0.68) (20,0.66) (24,0.64) (28,0.62)
(32,0.60) (36,0.58) (40,0.57) (44,0.55) (48,0.53) (52,0.51) (55,0.49) (58,0.45) (61,0.42) (64,0.40)
(67,0.37) (70,0.33) (73,0.29) (76,0.28) (78,0.27) (82,0.27)};
\node[lrtxt] at (rel axis cs:0.99,0.99) {Log-rank P = 0.237};
\end{axis}

% CD4+ T Cell
\begin{axis}[dpan, at={(244pt,19pt)}]
\addplot[kmb] coordinates {
(0,1) (3,0.96) (6,0.91) (9,0.84) (12,0.76) (14,0.71) (16,0.67) (18,0.64) (20,0.61) (24,0.58) (28,0.56)
(32,0.54) (36,0.53) (40,0.52) (44,0.50) (48,0.47) (52,0.45) (55,0.43) (57,0.40) (58,0.35) (62,0.35)
(70,0.35) (76,0.35) (77,0.27) (78,0.22)};
\addplot[kmr] coordinates {
(0,1) (3,0.97) (6,0.93) (9,0.88) (12,0.83) (14,0.79) (16,0.75) (18,0.72) (20,0.69) (24,0.66) (28,0.63)
(32,0.61) (36,0.59) (40,0.57) (44,0.55) (48,0.53) (52,0.51) (55,0.49) (58,0.46) (61,0.42) (64,0.38)
(67,0.34) (69,0.31) (71,0.27) (72,0.22) (78,0.22)};
\node[lrtxt] at (rel axis cs:0.99,0.99) {Log-rank P = 0.142};
\end{axis}

% Macrophage
\begin{axis}[dpan, at={(352pt,19pt)}]
\addplot[kmb] coordinates {
(0,1) (3,0.97) (6,0.92) (9,0.86) (12,0.79) (15,0.72) (18,0.66) (21,0.61) (24,0.57) (28,0.54) (32,0.52)
(36,0.51) (40,0.50) (44,0.49) (48,0.48) (52,0.46) (56,0.44) (58,0.40) (60,0.36) (63,0.33) (66,0.33)
(70,0.31) (74,0.28) (77,0.27) (78,0.20)};
\addplot[kmr] coordinates {
(0,1) (3,0.96) (6,0.91) (9,0.84) (12,0.76) (15,0.69) (18,0.64) (21,0.60) (24,0.58) (28,0.56) (32,0.54)
(36,0.52) (40,0.51) (44,0.50) (48,0.49) (52,0.47) (56,0.44) (60,0.40) (63,0.38) (66,0.36) (68,0.35)
(70,0.30) (73,0.28) (76,0.28) (78,0.27) (81,0.27)};
\node[lrtxt] at (rel axis cs:0.99,0.99) {Log-rank P = 0.474};
\end{axis}

% Neutrophil
\begin{axis}[dpan, at={(461pt,19pt)}]
\addplot[kmb] coordinates {
(0,1) (3,0.97) (6,0.92) (9,0.86) (12,0.79) (14,0.73) (16,0.68) (18,0.64) (20,0.61) (24,0.58) (28,0.55)
(32,0.52) (36,0.49) (40,0.46) (44,0.43) (48,0.40) (52,0.37) (55,0.34) (58,0.31) (60,0.30) (66,0.30)
(72,0.30) (76,0.30) (77,0.22) (79,0.22)};
\addplot[kmr] coordinates {
(0,1) (3,0.97) (6,0.93) (9,0.88) (12,0.82) (15,0.76) (18,0.71) (21,0.68) (24,0.66) (28,0.64) (32,0.62)
(36,0.60) (40,0.59) (44,0.58) (48,0.57) (52,0.55) (55,0.53) (58,0.48) (61,0.44) (64,0.40) (66,0.36)
(68,0.32) (70,0.28) (72,0.22) (78,0.22)};
\node[lrtxt] at (rel axis cs:0.99,0.99) {Log-rank P = 0.107};
\end{axis}

% Dendritic Cell
\begin{axis}[dpan, at={(569pt,19pt)}]
\addplot[kmb] coordinates {
(0,1) (3,0.97) (6,0.92) (9,0.86) (12,0.80) (15,0.73) (18,0.68) (21,0.65) (24,0.62) (28,0.59) (32,0.56)
(36,0.54) (40,0.52) (44,0.51) (48,0.49) (52,0.46) (56,0.43) (60,0.39) (62,0.35) (66,0.35) (70,0.32)
(74,0.32) (76,0.28) (78,0.20)};
\addplot[kmr] coordinates {
(0,1) (3,0.97) (6,0.93) (9,0.88) (12,0.82) (15,0.76) (18,0.71) (21,0.68) (24,0.66) (28,0.63) (32,0.61)
(36,0.59) (40,0.57) (44,0.55) (48,0.53) (52,0.51) (56,0.47) (60,0.43) (63,0.40) (66,0.36) (69,0.33)
(72,0.30) (75,0.29) (77,0.27) (80,0.27)};
\node[lrtxt] at (rel axis cs:0.99,0.99) {Log-rank P = 0.248};
\end{axis}

%================ TEXT AND STRIPS (pixel coordinates, y downwards) ================
\begin{scope}[yshift=639pt, y=-1pt]
  % panel letters
  \node[font=\fs{15}\bfseries] at (9,16) {A};
  \node[font=\fs{15}\bfseries] at (395,16) {B};
  \node[font=\fs{15}\bfseries] at (12,284) {C};
  \node[font=\fs{15}\bfseries] at (12,516) {D};
  % A and B titles and labels
  \node[font=\fs{8.5}, anchor=west, inner sep=0] at (63,22) {Cancer: HNSC};
  \node[font=\fs{8.5}, anchor=west, inner sep=0] at (439,22) {Cancer: HNSC};
  \node[font=\fs{6.7}, anchor=west, inner sep=0] at (72,83) {\textit{R} = −0.22, \textit{p} = 6e−07};
  \node[font=\fs{6.7}, anchor=west, inner sep=0] at (449,82) {\textit{R} = −0.17, \textit{p} = 0.00015};
  \node[font=\fs{7}] at (160,258) {ImmuneScore};
  \node[font=\fs{7}] at (540,256) {StromalScore};
  \node[font=\fs{7}, rotate=90] at (49,157) {NUTF2};
  \node[font=\fs{7}, rotate=90] at (426,155) {NUTF2};
  % C strips
  \strip{28}{127}{316}{326}{Purity}
  \strip{129}{228}{316}{326}{B Cell}
  \strip{231}{329}{316}{326}{CD8+ T Cell}
  \strip{332}{430}{316}{326}{CD4+ T Cell}
  \strip{433}{532}{316}{326}{Macrophage}
  \strip{535}{633}{316}{326}{Neutrophil}
  \strip{636}{733}{316}{326}{Dendritic Cell}
  \draw[fill=stripgray, draw=framegray, line width=0.4pt] (17,326) rectangle (24,415);
  \node[font=\fs{4.2}, rotate=90, inner sep=0] at (20.5,370) {HNSC};
  \node[font=\fs{5.4}, rotate=90] at (8,370) {NUTF2 Expression Level (log2 TPM)};
  \node[font=\fs{5.6}] at (380,431) {Infiltration Level};
  % D strips
  \strip{28}{132}{510}{518}{B Cell}
  \strip{136}{240}{510}{518}{CD8+ T Cell}
  \strip{244}{348}{510}{518}{CD4+ T Cell}
  \strip{352}{456}{510}{518}{Macrophage}
  \strip{461}{565}{510}{518}{Neutrophil}
  \strip{569}{673}{510}{518}{Dendritic Cell}
  \draw[fill=stripgray, draw=framegray, line width=0.4pt] (674,518) rectangle (685,620);
  \node[font=\fs{4.2}, rotate=-90, inner sep=0] at (679.5,569) {HNSC};
  \node[font=\fs{6.2}, rotate=90] at (10,570) {Cumulative Survival};
  \node[font=\fs{6.2}] at (351,632) {Time to Follow-Up (months)};
  % D legend
  \node[font=\fs{6.4}, anchor=west, inner sep=0] at (694,558) {Level};
  \draw[kmblue, line width=0.6pt] (697,569) -- (706,569);
  \node[font=\fs{4.6}, anchor=west, inner sep=0] at (708,569) {Low (Bottom 50\%)};
  \draw[kmred, line width=0.6pt] (697,580) -- (706,580);
  \node[font=\fs{4.6}, anchor=west, inner sep=0] at (708,580) {High (Top 50\%)};
\end{scope}
\end{tikzpicture}
\end{document}
